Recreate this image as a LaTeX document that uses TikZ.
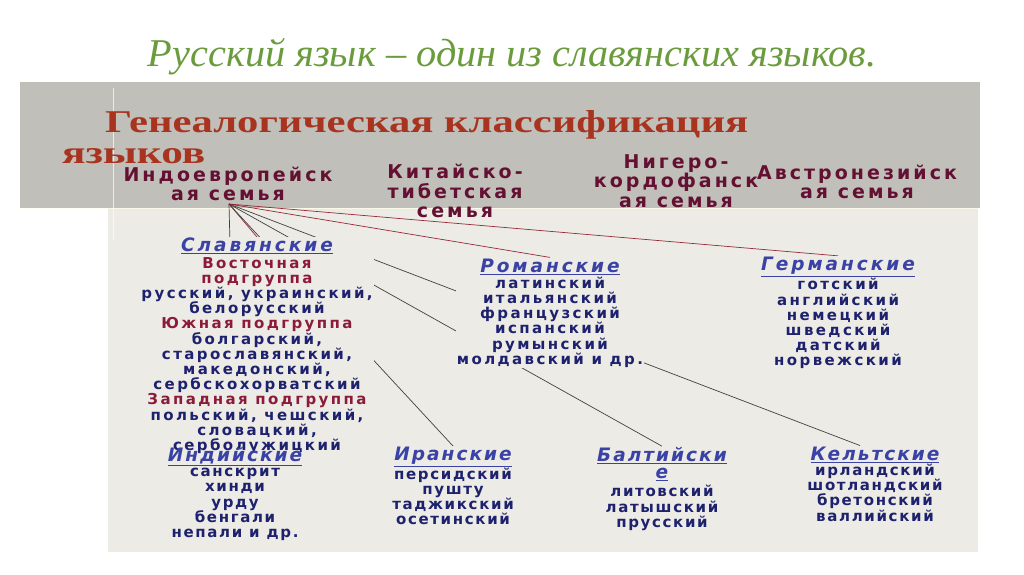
\documentclass[tikz,border=0pt]{standalone}
\usepackage{fontspec}
\setmainfont{Liberation Serif}
\newfontfamily\widefont[LetterSpace=16]{DejaVu Sans}
\newfontfamily\listfont[LetterSpace=11]{DejaVu Sans}

\definecolor{titlegreen}{RGB}{106,155,60}
\definecolor{headred}{RGB}{168,52,32}
\definecolor{famred}{RGB}{100,16,50}
\definecolor{subred}{RGB}{140,26,58}
\definecolor{groupblue}{RGB}{58,66,166}
\definecolor{listblue}{RGB}{30,34,110}
\definecolor{bandgray}{RGB}{192,191,185}
\definecolor{panelcream}{RGB}{236,235,229}
\definecolor{redline}{RGB}{150,40,55}

\pgfdeclarelayer{back}
\pgfdeclarelayer{links}
\pgfsetlayers{back,links,main}

% group header and subgroup lines
\newcommand{\grp}[1]{{\fontsize{18.5}{18}\selectfont\color{groupblue}\underline{\itshape #1}}}
\newcommand{\sub}[1]{\textcolor{subred}{#1}}

\begin{document}
\begin{tikzpicture}[x=1pt,y=-1pt,
    family/.style={text=famred,font=\widefont\bfseries\fontsize{19}{19.5}\selectfont,align=center,inner sep=0pt},
    block/.style={align=center,inner sep=1pt,fill=panelcream,text=listblue,font=\widefont\bfseries\fontsize{15}{15.2}\selectfont},
    lowblock/.style={align=center,inner sep=1pt,text=listblue,font=\listfont\bfseries\fontsize{15}{15.2}\selectfont},
    link/.style={line width=0.7pt,draw=black!75},
    redlink/.style={line width=0.7pt,draw=redline}]
    \useasboundingbox (0,0) rectangle (1024,574);

    \begin{pgfonlayer}{back}
        \fill[white] (0,0) rectangle (1024,574);
        \fill[bandgray] (20,82) rectangle (980,208);
        \fill[panelcream] (108,208) rectangle (978,552);
        \draw[white!92!yellow,line width=0.6pt,opacity=0.7] (113,88) -- (113,240);
        \draw[white!92!yellow,line width=0.6pt,opacity=0.7] (20,208) -- (978,208);
    \end{pgfonlayer}

    % titles
    \node[text=titlegreen] (title) at (512,57)
        {\resizebox{728pt}{28pt}{\itshape Русский язык – один из славянских языков.}};
    \node[text=headred,anchor=base west,inner sep=0pt] (gen) at (105,132)
        {\resizebox{643pt}{22pt}{\bfseries Генеалогическая классификация}};
    \node[text=headred,anchor=base west,inner sep=0pt] (gen2) at (62,163)
        {\resizebox{143pt}{15pt}{\bfseries языков}};

    % families
    \node[family] (ie)  at (228,184) {Индоевропейск\\ая семья};
    \node[family] (kit) at (455,191) {Китайско-\\тибетская\\семья};
    \node[family] (nig) at (676,181) {Нигеро-\\кордофанск\\ая семья};
    \node[family] (avs) at (857,182) {Австронезийск\\ая семья};
    \coordinate (root) at (229,204);

    % groups
    \node[block] (sla) at (257,346) {\grp{Славянские}\\[1pt]
        \sub{Восточная}\\ \sub{подгруппа}\\ русский, украинский,\\ белорусский\\
        \sub{Южная подгруппа}\\ болгарский,\\ старославянский,\\ македонский,\\ сербскохорватский\\
        \sub{Западная подгруппа}\\ польский, чешский,\\ словацкий,\\ серболужицкий};
    \node[block] (rom) at (550,313) {\grp{Романские}\\[1pt]
        латинский\\ итальянский\\ французский\\ испанский\\ румынский\\ молдавский и др.};
    \node[block] (ger) at (838,313) {\grp{Германские}\\[1pt]
        готский\\ английский\\ немецкий\\ шведский\\ датский\\ норвежский};
    \node[lowblock] (ind) at (235,494) {\grp{Индийские}\\
        санскрит\\ хинди\\ урду\\ бенгали\\ непали и др.};
    \node[lowblock] (ira) at (453,486) {\grp{Иранские}\\
        персидский\\ пушту\\ таджикский\\ осетинский};
    \node[lowblock] (bal) at (662,489) {\grp{Балтийски}\\[2pt] \grp{е}\\[3pt]
        литовский\\ латышский\\ прусский};
    \node[lowblock] (kel) at (875,484) {\grp{Кельтские}\\
        ирландский\\ шотландский\\ бретонский\\ валлийский};

    \begin{pgfonlayer}{links}
        \draw[link] (root) -- (ind.north);
        \draw[redlink] (root) -- (sla.north);
        \draw[link] (root) -- (ira.north);
        \draw[link] (root) -- (bal.north);
        \draw[link] (root) -- ([xshift=-15pt]kel.north);
        \draw[redlink] (root) -- (rom.north);
        \draw[redlink] (root) -- (ger.north);
    \end{pgfonlayer}
\end{tikzpicture}
\end{document}
